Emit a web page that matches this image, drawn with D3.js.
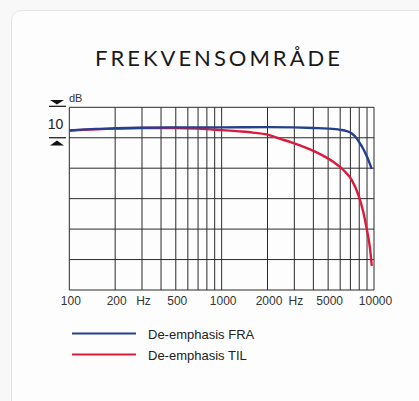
<!DOCTYPE html>
<html>
<head>
<meta charset="utf-8">
<script src="https://cdn.jsdelivr.net/npm/d3@7"></script>
<style>
  html, body { margin: 0; padding: 0; background: #f8f8f8; }
  svg { display: block; }
  .tick-label { font-family: "Liberation Sans", Arial, sans-serif; font-size: 12px; fill: #333; }
  .legend-text { font-family: "Liberation Sans", Arial, sans-serif; font-size: 13px; fill: #222; }
</style>
</head>
<body>
<svg id="chart"></svg>
<script>
// frequency response, dB relative
const fraFreq = [100, 150, 200, 300, 500, 1000, 2000, 3000, 4000, 5000, 6000, 6600, 7150, 7700, 8100, 8400, 8950, 9300, 9650];
const fraDb = [2.4, 2.9, 3.1, 3.3, 3.4, 3.4, 3.5, 3.4, 3.2, 3.0, 2.6, 2.2, 1.4, -0.2, -1.9, -3.2, -6.0, -8.0, -10.2];

const tilFreq = [100, 200, 300, 500, 700, 1000, 1300, 1600, 2000, 2400, 2900, 3300, 3800, 4200, 5400, 6300, 7150, 7900, 8500, 8950, 9400, 9670];
const tilDb = [2.4, 3.0, 3.2, 3.2, 3.0, 2.5, 2.1, 1.7, 1.0, -0.3, -1.6, -2.6, -3.8, -4.8, -7.9, -10.6, -13.9, -18.8, -24.3, -29.8, -36.1, -42.1];

const gridFreqs = [100, 200, 300, 400, 500, 600, 700, 800, 900, 1000, 2000, 3000, 4000, 5000, 6000, 7000, 8000, 9000, 10000];
const gridDb = [10, 0, -10, -20, -30, -40, -50];

const tickValues = [100, 200, 300, 500, 1000, 2000, 3000, 5000, 10000];
const tickLabels = ['100', '200', 'Hz', '500', '1000', '2000', 'Hz', '5000', '10000'];

const seriesNames = ['De-emphasis FRA', 'De-emphasis TIL'];
const seriesColors = ['#24408f', '#dc1a3c'];

const width = 419;
const height = 401;

const svg = d3.select('#chart')
    .attr('width', width)
    .attr('height', height);

// card
svg.append('rect')
    .attr('x', 11.5)
    .attr('y', 10.5)
    .attr('width', 430)
    .attr('height', 410)
    .attr('rx', 10)
    .attr('fill', '#fdfdfd')
    .attr('stroke', '#e4e4e4');

// title
svg.append('text')
    .attr('x', 219)
    .attr('y', 66)
    .attr('text-anchor', 'middle')
    .style('font-family', 'Lato, "Open Sans", sans-serif')
    .style('font-size', '22px')
    .style('letter-spacing', '3px')
    .style('fill', '#1a1a1a')
    .text('FREKVENSOMRÅDE');

// scales
const x = d3.scaleLog().domain([100, 10000]).range([69.3, 374]);
const y = d3.scaleLinear().domain([-50, 10]).range([290, 107.3]);

const plot = svg.append('g');

// vertical grid
plot.selectAll('.vgrid')
    .data(gridFreqs)
    .enter()
    .append('line')
    .attr('class', 'vgrid')
    .attr('x1', d => x(d))
    .attr('x2', d => x(d))
    .attr('y1', y(10))
    .attr('y2', y(-50))
    .attr('stroke', '#2a2a2a')
    .attr('stroke-width', 1);

// horizontal grid
plot.selectAll('.hgrid')
    .data(gridDb)
    .enter()
    .append('line')
    .attr('class', 'hgrid')
    .attr('x1', x(100))
    .attr('x2', x(10000))
    .attr('y1', d => y(d))
    .attr('y2', d => y(d))
    .attr('stroke', '#2a2a2a')
    .attr('stroke-width', 1);

// x axis labels
const xAxis = d3.axisBottom(x)
    .tickValues(tickValues)
    .tickFormat((d, i) => tickLabels[i])
    .tickSize(0)
    .tickPadding(0);

const xAxisG = svg.append('g')
    .attr('transform', `translate(1, ${y(-50) + 6})`)
    .call(xAxis);
xAxisG.select('.domain').remove();
xAxisG.selectAll('text').attr('class', 'tick-label').attr('dy', '0.71em');

// dB marker on the left
const mk = svg.append('g');
mk.append('path')
    .attr('d', 'M50,100 L64,100 L57,104.5 Z')
    .attr('fill', '#111');
mk.append('line')
    .attr('x1', 49).attr('x2', 66)
    .attr('y1', y(10) - 1).attr('y2', y(10) - 1)
    .attr('stroke', '#111').attr('stroke-width', 1.2);
mk.append('line')
    .attr('x1', 49).attr('x2', 66)
    .attr('y1', y(0)).attr('y2', y(0))
    .attr('stroke', '#111').attr('stroke-width', 1.2);
mk.append('path')
    .attr('d', 'M50,145.5 L64,145.5 L57,140.5 Z')
    .attr('fill', '#111');
mk.append('text')
    .attr('x', 55.5)
    .attr('y', 128.5)
    .attr('text-anchor', 'middle')
    .style('font-family', '"Liberation Sans", Arial, sans-serif')
    .style('font-size', '14px')
    .style('fill', '#222')
    .text('10');
mk.append('text')
    .attr('x', 69)
    .attr('y', 102)
    .style('font-family', '"Liberation Sans", Arial, sans-serif')
    .style('font-size', '11px')
    .style('fill', '#333')
    .text('dB');

// curves
const series = [
    { name: seriesNames[0], color: seriesColors[0], freq: fraFreq, db: fraDb },
    { name: seriesNames[1], color: seriesColors[1], freq: tilFreq, db: tilDb }
];

const line = d3.line()
    .x(d => x(d[0]))
    .y(d => y(d[1]))
    .curve(d3.curveMonotoneX);

plot.selectAll('.curve')
    .data(series.slice().reverse())
    .enter()
    .append('path')
    .attr('class', 'curve')
    .attr('d', s => line(s.freq.map((f, i) => [f, s.db[i]])))
    .attr('fill', 'none')
    .attr('stroke', s => s.color)
    .attr('stroke-width', 2.4);

// legend
const legend = svg.selectAll('.legend')
    .data(series)
    .enter()
    .append('g')
    .attr('class', 'legend')
    .attr('transform', (d, i) => `translate(72, ${333.5 + i * 21})`);

legend.append('line')
    .attr('x1', 0).attr('x2', 64)
    .attr('y1', 0).attr('y2', 0)
    .attr('stroke', d => d.color)
    .attr('stroke-width', 2);

legend.append('text')
    .attr('class', 'legend-text')
    .attr('x', 76)
    .attr('y', 5.5)
    .text(d => d.name);
</script>
</body>
</html>
